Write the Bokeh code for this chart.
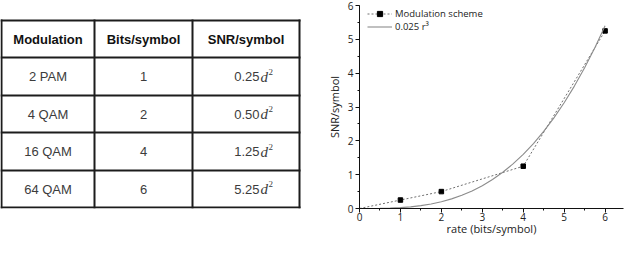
from bokeh.plotting import figure
from bokeh.models import Range1d, SingleIntervalTicker, Legend, LegendItem
from bokeh.layouts import row
from bokeh.core.properties import value
from bokeh.embed import file_html
from bokeh.resources import INLINE

# ---- data ----
headers = ["Modulation", "Bits/symbol", "SNR/symbol"]
modulation = ["2 PAM", "4 QAM", "16 QAM", "64 QAM"]
bits = [1, 2, 4, 6]
snr = [0.25, 0.50, 1.25, 5.25]
snr_labels = ["0.25", "0.50", "1.25", "5.25"]

# modulation line starts from the origin
mod_x = [0, 1, 2, 4, 6]
mod_y = [0, 0.25, 0.50, 1.25, 5.25]

# 0.025 r^3 curve, values read at quarter steps
curve_r = [0, 0.25, 0.5, 0.75, 1, 1.25, 1.5, 1.75, 2, 2.25, 2.5, 2.75, 3,
           3.25, 3.5, 3.75, 4, 4.25, 4.5, 4.75, 5, 5.25, 5.5, 5.75, 6]
curve_snr = [0, 0.0004, 0.0031, 0.0105, 0.025, 0.0488, 0.0844, 0.134, 0.2,
             0.285, 0.391, 0.520, 0.675, 0.858, 1.072, 1.318, 1.6, 1.919,
             2.278, 2.679, 3.125, 3.618, 4.159, 4.753, 5.4]

H = 238
TOP = 5              # shared top border of both figures
BOTTOM = 30          # shared bottom border of both figures
FRAME_H = H - TOP - BOTTOM

# ---- table layout (screen-like units, measured from top of frame) ----
COL_EDGES = [1, 94, 192, 299]
ROW_EDGES = [15, 52, 90, 127, 165, 202]
BORDER = "#1c1c1c"
BODY = "#3c3c3c"

t = figure(width=322, height=H, x_range=Range1d(0, 322), y_range=Range1d(FRAME_H, 0),
           output_backend="svg", toolbar_location=None,
           min_border_left=0, min_border_right=0, min_border_top=TOP, min_border_bottom=BOTTOM,
           x_axis_location=None, y_axis_location=None)
t.grid.visible = False
t.outline_line_color = None

L, R = COL_EDGES[0], COL_EDGES[-1]
T, B = ROW_EDGES[0], ROW_EDGES[-1]
t.segment(x0=[L] * len(ROW_EDGES), y0=ROW_EDGES, x1=[R] * len(ROW_EDGES), y1=ROW_EDGES,
          line_width=2, line_color=BORDER, line_cap="square")
t.segment(x0=COL_EDGES, y0=[T] * len(COL_EDGES), x1=COL_EDGES, y1=[B] * len(COL_EDGES),
          line_width=2, line_color=BORDER, line_cap="square")

col_c = [(COL_EDGES[i] + COL_EDGES[i + 1]) / 2 for i in range(3)]
row_c = [(ROW_EDGES[i] + ROW_EDGES[i + 1]) / 2 for i in range(5)]

t.text(x=col_c, y=[row_c[0]] * 3, text=headers, text_font=value("Liberation Sans"),
       text_font_style="bold", text_font_size="13px", text_color="#111111",
       text_align="center", text_baseline="middle")

body_y = row_c[1:]
t.text(x=[col_c[0]] * 4, y=body_y, text=modulation, text_font=value("Liberation Sans"),
       text_font_size="13px", text_color=BODY, text_align="center", text_baseline="middle")
t.text(x=[col_c[1]] * 4, y=body_y, text=[str(b) for b in bits], text_font=value("Liberation Sans"),
       text_font_size="13px", text_color=BODY, text_align="center", text_baseline="middle")
t.text(x=[col_c[2]] * 4, y=body_y, text=snr_labels, x_offset=13.5,
       text_font=value("Liberation Sans"), text_font_size="13px", text_color=BODY,
       text_align="right", text_baseline="middle")
t.text(x=[col_c[2]] * 4, y=body_y, text=["d"] * 4, x_offset=14.5, y_offset=0,
       text_font=value("Liberation Serif"), text_font_style="italic", text_font_size="15px",
       text_color=BODY, text_align="left", text_baseline="middle")
t.text(x=[col_c[2]] * 4, y=body_y, text=["2"] * 4, x_offset=22.5, y_offset=-5,
       text_font=value("Liberation Serif"), text_font_size="9px",
       text_color=BODY, text_align="left", text_baseline="middle")

# ---- chart ----
X_END = 6.45
p = figure(width=302, height=H, x_range=Range1d(0, X_END), y_range=Range1d(0, 6),
           output_backend="svg", toolbar_location=None,
           min_border_left=37, min_border_right=1, min_border_top=TOP, min_border_bottom=BOTTOM)
p.grid.visible = False
p.outline_line_color = None

for ax in (p.xaxis[0], p.yaxis[0]):
    ax.ticker = SingleIntervalTicker(interval=1, num_minor_ticks=2)
    ax.major_tick_in = 0
    ax.major_tick_out = 4
    ax.minor_tick_in = 0
    ax.minor_tick_out = 2
    ax.axis_line_color = "#111111"
    ax.major_tick_line_color = "#111111"
    ax.minor_tick_line_color = "#111111"
    ax.major_label_text_font = "Open Sans"
    ax.major_label_text_font_size = "10px"
    ax.major_label_text_color = "#222222"
    ax.axis_label_text_font = "Open Sans"
    ax.axis_label_text_font_size = "11px"
    ax.axis_label_text_font_style = "normal"
    ax.axis_label_text_color = "#222222"

p.xaxis.axis_label = "rate (bits/symbol)"
p.xaxis.major_label_standoff = 0
p.xaxis.axis_label_standoff = -3
p.yaxis.axis_label = "SNR/symbol"
p.yaxis.major_label_standoff = 2
p.yaxis.axis_label_standoff = 3

l1 = p.line(mod_x, mod_y, line_color="#707070", line_width=1, line_dash="2 2")
s1 = p.scatter(bits, snr, marker="square", size=4.5, fill_color="#000000", line_color="#000000")
c1 = p.line(curve_r, curve_snr, line_color="#8c8c8c", line_width=1.1)

legend = Legend(items=[LegendItem(label="Modulation scheme", renderers=[l1, s1]),
                       LegendItem(label="0.025 r\u00b3", renderers=[c1])],
                location=(8, FRAME_H - 28), glyph_width=25, glyph_height=13, label_height=13,
                label_standoff=3, spacing=0, padding=0, margin=0,
                border_line_color=None, background_fill_alpha=0,
                label_text_font="Open Sans", label_text_font_size="9.5px",
                label_text_color="#222222")
p.add_layout(legend)

layout = row(t, p)
open("out.html", "w").write(file_html(layout, INLINE))
